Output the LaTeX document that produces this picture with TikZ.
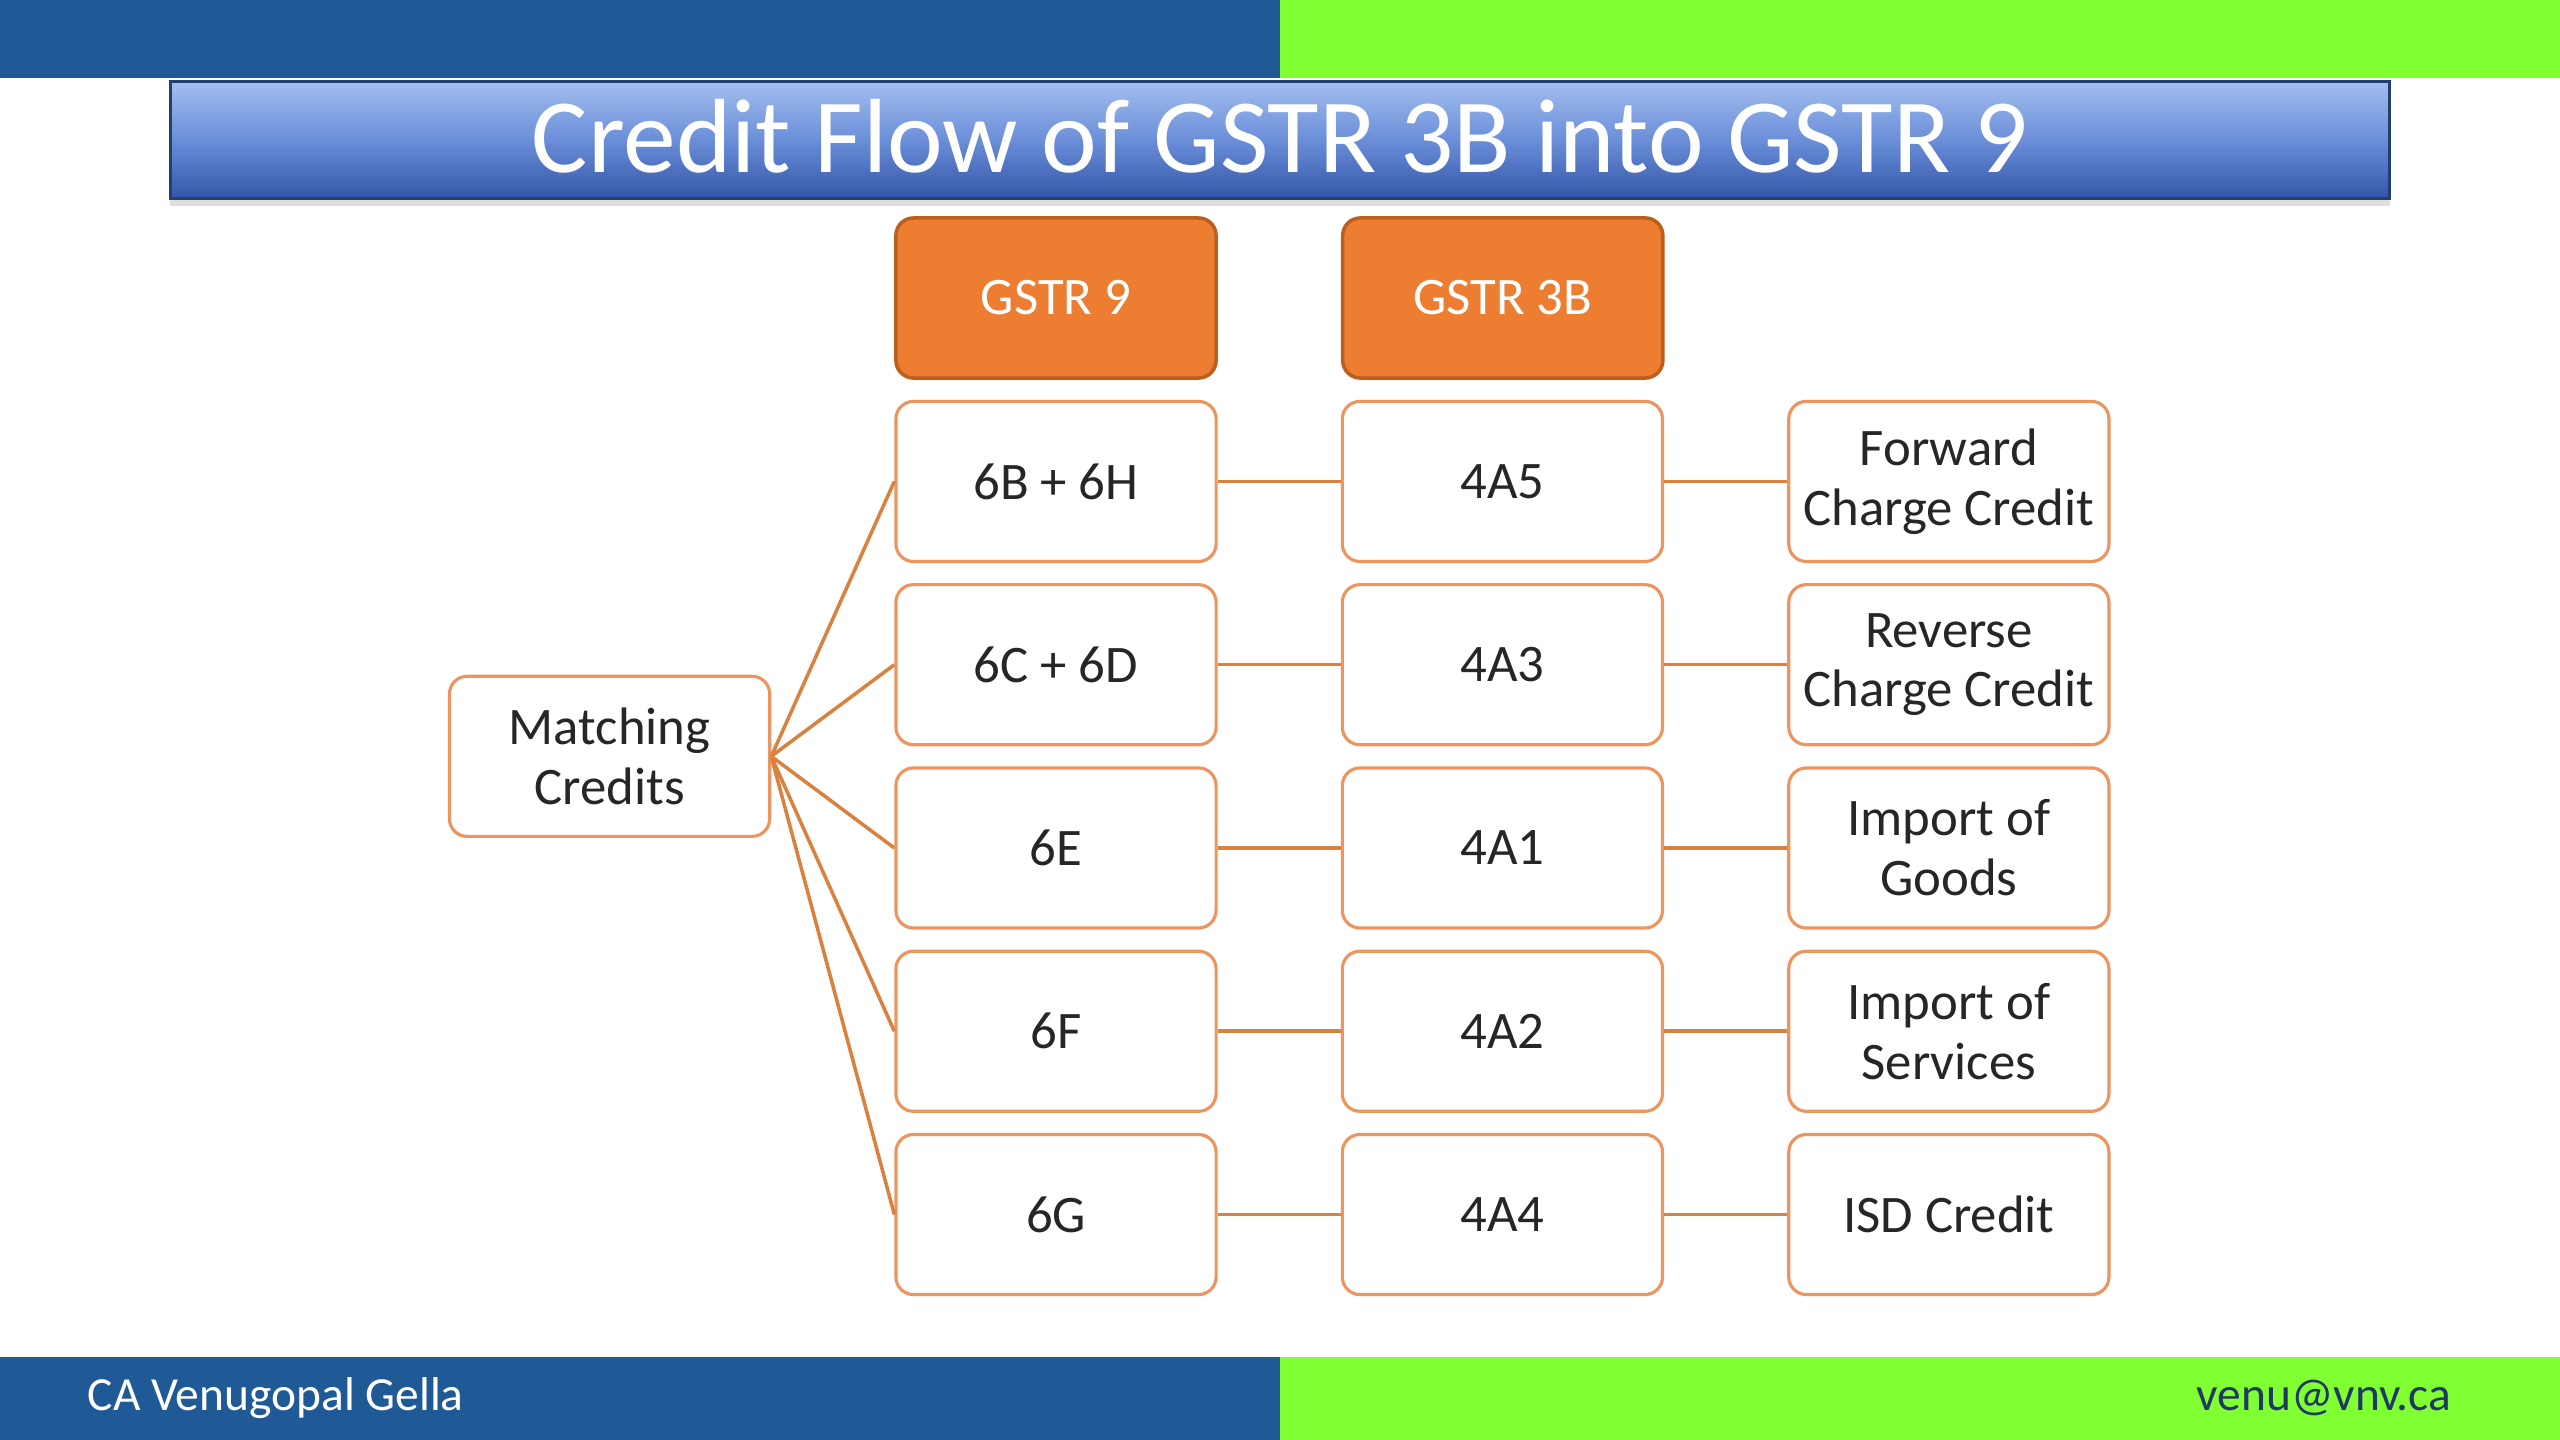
\documentclass[tikz,border=0pt]{standalone}
\usepackage{fontspec}
\setmainfont{Carlito}
\usepackage{tikz}
\usetikzlibrary{positioning,shadows}
\definecolor{bandBlue}{HTML}{1F5A96}
\definecolor{bandGreen}{HTML}{80FF33}
\definecolor{titleTop}{HTML}{A3BEEE}
\definecolor{titleMid}{HTML}{6A8ED8}
\definecolor{titleBot}{HTML}{3356A8}
\definecolor{titleEdge}{HTML}{22406F}
\definecolor{accentOrange}{HTML}{ED7D31}
\definecolor{headEdge}{HTML}{BC5E1E}
\definecolor{cellEdge}{HTML}{EC9560}
\definecolor{linkOrange}{HTML}{D9813F}
\definecolor{textMain}{HTML}{262626}
\definecolor{mailBlue}{HTML}{1F3864}

\begin{document}
\begin{tikzpicture}[
    x=0.01cm, y=-0.01cm,
    node distance=0.2cm and 1.23cm,
    titlebar/.style={rectangle, draw=titleEdge, line width=0.8pt,
                  top color=titleTop, bottom color=titleBot, middle color=titleMid,
                  text=white, minimum width=22.18cm, minimum height=1.17cm,
                  font=\fontsize{30}{34}\selectfont, inner sep=0pt,
                  drop shadow={opacity=0.25, shadow xshift=0pt, shadow yshift=-2pt}},
    head/.style={rectangle, rounded corners=5pt, draw=headEdge, line width=1pt,
                  fill=accentOrange, text=white, minimum width=3.2cm, minimum height=1.6cm,
                  align=center, font=\fontsize{15}{17}\selectfont, inner sep=2pt},
    cell/.style={rectangle, rounded corners=5pt, draw=cellEdge, line width=0.9pt,
                  fill=white, text=textMain, minimum width=3.2cm, minimum height=1.6cm,
                  align=center, font=\fontsize{15}{17}\selectfont, inner sep=2pt},
    link/.style={draw=linkOrange, line width=1pt},
]
    \useasboundingbox (0,0) rectangle (2560,1440);
    \fill[white] (0,0) rectangle (2560,1440);

    % top and bottom bands
    \fill[bandBlue] (0,0) rectangle (1280,78);
    \fill[bandGreen] (1280,0) rectangle (2560,78);
    \fill[bandBlue] (0,1357) rectangle (1280,1440);
    \fill[bandGreen] (1280,1357) rectangle (2560,1440);
    \node[anchor=west, text=white, font=\fontsize{13.5}{15}\selectfont, inner sep=0pt] (author) at (87,1398) {CA Venugopal Gella};
    \node[anchor=east, text=mailBlue, font=\fontsize{13.5}{15}\selectfont, inner sep=0pt] (mail) at (2452,1398) {venu@vnv.ca};

    % title
    \node[titlebar] (title) at (1280,140) {\raisebox{2.5pt}{Credit Flow of GSTR 3B into GSTR 9}};

    % columns
    \node[head] (g9) at (1056,298) {GSTR 9};
    \node[head, right=of g9] (g3b) {GSTR 3B};

    \node[cell, below=of g9] (a1) {6B + 6H};
    \node[cell, below=of a1] (a2) {6C + 6D};
    \node[cell, below=of a2] (a3) {6E};
    \node[cell, below=of a3] (a4) {6F};
    \node[cell, below=of a4] (a5) {6G};

    \node[cell, right=of a1] (b1) {4A5};
    \node[cell, right=of a2] (b2) {4A3};
    \node[cell, right=of a3] (b3) {4A1};
    \node[cell, right=of a4] (b4) {4A2};
    \node[cell, right=of a5] (b5) {4A4};

    \node[cell, right=of b1] (c1) {Forward\\Charge Credit};
    \node[cell, right=of b2] (c2) {Reverse\\Charge Credit};
    \node[cell, right=of b3] (c3) {Import of\\Goods};
    \node[cell, right=of b4] (c4) {Import of\\Services};
    \node[cell, right=of b5] (c5) {ISD Credit};

    \path (a2.west) -- (a3.west) coordinate[midway] (mid);
    \node[cell, left=1.23cm of mid] (match) {Matching\\Credits};

    % connectors
    \foreach \i in {1,...,5} {
        \draw[link] (match.east) -- (a\i.west);
        \draw[link] (a\i) -- (b\i);
        \draw[link] (b\i) -- (c\i);
    }
\end{tikzpicture}
\end{document}
